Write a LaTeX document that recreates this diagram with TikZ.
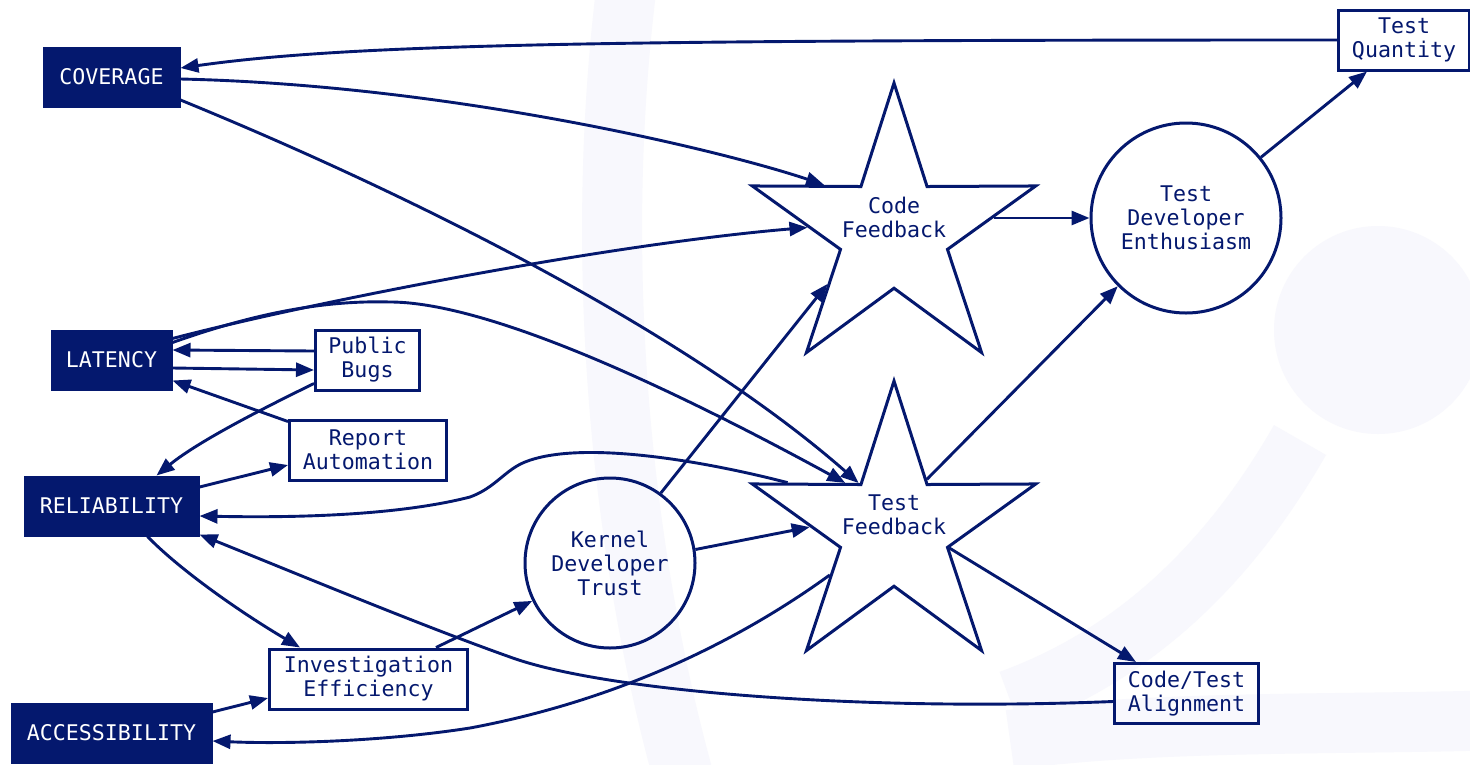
\documentclass[tikz,border=0pt]{standalone}
\usepackage{fontspec}
\setmonofont{DejaVu Sans Mono}
\usetikzlibrary{arrows.meta,shapes.geometric,calc}
\definecolor{navy}{RGB}{4,24,110}
\definecolor{wm}{RGB}{248,248,253}
\begin{document}
\begin{tikzpicture}[x=1pt,y=-1pt,
  every node/.style={font=\ttfamily\fontsize{21.6}{24}\selectfont, text=navy, align=center, inner sep=0pt},
  dark/.style={rectangle, fill=navy, draw=navy, line width=1pt, text=white, minimum height=60pt},
  lbox/.style={rectangle, draw=navy, line width=3pt, minimum height=60pt},
  circ/.style={circle, draw=navy, line width=3pt},
  starshape/.style={star, star points=5, star point ratio=2.65, draw=navy, line width=3pt, minimum size=298pt},
  arr/.style={draw=navy, line width=2.9pt, -{Triangle[length=18pt,width=14pt]}},
  wmband/.style={draw=wm, line width=60pt}
]
\useasboundingbox (0,0) rectangle (1470,764);
\fill[white] (0,0) rectangle (1470,764);
% faint background watermark
\fill[wm] (1378,330) circle (104);
\draw[wmband] (630,-40) .. controls (590,250) and (620,560) .. (690,800);
\draw[wmband] (1300,440) .. controls (1220,580) and (1120,660) .. (1010,700);
\draw[wmband] (1010,740) .. controls (1150,720) and (1350,725) .. (1500,720);
% nodes
\node[dark, minimum width=137pt] (cov) at (111.5,77) {COVERAGE};
\node[dark, minimum width=121pt] (lat) at (111.5,360) {LATENCY};
\node[dark, minimum width=175pt] (rel) at (111.5,506) {RELIABILITY};
\node[dark, minimum width=201pt] (acc) at (111.5,733) {ACCESSIBILITY};
\node[lbox, minimum width=131pt] (tq) at (1404,40) {Test\\Quantity};
\node[lbox, minimum width=104pt] (pb) at (367.5,360) {Public\\Bugs};
\node[lbox, minimum width=157pt] (ra) at (368,450) {Report\\Automation};
\node[lbox, minimum width=198pt] (ie) at (368.5,679) {Investigation\\Efficiency};
\node[lbox, minimum width=144pt] (ct) at (1186.5,693.5) {Code/Test\\Alignment};
\node[circ, minimum size=170pt] (kdt) at (610,563) {Kernel\\Developer\\Trust};
\node[circ, minimum size=190pt] (tde) at (1186,218) {Test\\Developer\\Enthusiasm};
\node[starshape] (cf) at (894,232) {};
\node[starshape] (tf) at (894,530) {};
\node (cft) at (894,217) {Code\\Feedback};
\node (tft) at (894,515) {Test\\Feedback};
% edges
\draw[arr] (tq.west) .. controls (600,40) and (350,44) .. ($(cov.east)+(0,-9)$);
\draw[arr] ($(cov.east)+(0,2)$) .. controls (450,85) and (720,150) .. (cf.146);
\draw[arr] ($(cov.east)+(0,23)$) .. controls (420,198) and (690,335) .. (tf.127);
\draw[arr] ($(lat.north east)+(0,9)$) .. controls (300,305) and (600,245) .. (cf.177);
\draw[arr] ($(lat.north east)+(0,13)$) .. controls (250,315) and (320,300) .. (390,302) .. controls (470,302) and (620,360) .. (tf.136);
\draw[arr] ($(pb.west)+(0,-9)$) -- ($(lat.east)+(0,-10)$);
\draw[arr] ($(lat.east)+(0,8)$) -- ($(pb.west)+(0,10)$);
\draw[arr] ($(ra.north west)+(0,3)$) -- ($(lat.south east)+(0,-10)$);
\draw[arr] ($(pb.south west)+(0,-8)$) .. controls (270,405) and (200,440) .. ($(rel.north)+(45,0)$);
\draw[arr] ($(rel.east)+(0,-19)$) -- ($(ra.west)+(0,15)$);
\draw[arr] (tf.156) .. controls (700,460) and (580,440) .. (525,462) .. controls (505,470) and (495,488) .. (470,497) .. controls (400,515) and (300,518) .. ($(rel.east)+(0,10)$);
\draw[arr] ($(rel.south)+(36,0)$) .. controls (180,570) and (240,612) .. ($(ie.north west)+(32,0)$);
\draw[arr] ($(ct.west)+(0,8)$) .. controls (850,712) and (600,690) .. (510,657) .. controls (420,625) and (300,575) .. ($(rel.south east)+(0,-2)$);
\draw[arr] ($(acc.east)+(0,-21)$) -- ($(ie.west)+(0,19)$);
\draw[arr] (tf.215) .. controls (740,640) and (620,700) .. (470,728) .. controls (380,742) and (280,744) .. ($(acc.east)+(0,8)$);
\draw[arr] ($(ie.north east)+(-33,0)$) -- (kdt.206);
\draw[arr] (kdt.54) -- (cf.218);
\draw[arr] (kdt.9) -- (tf.178);
\draw[arr] (cf.8) -- (cf.8 -| tde.west);
\draw[arr] (tf.57) -- (tde.225);
\draw[arr] (tde.39) -- ($(tq.south)+(-37,0)$);
\draw[arr] (tf.-18) -- ($(ct.north west)+(23,0)$);
\end{tikzpicture}
\end{document}
